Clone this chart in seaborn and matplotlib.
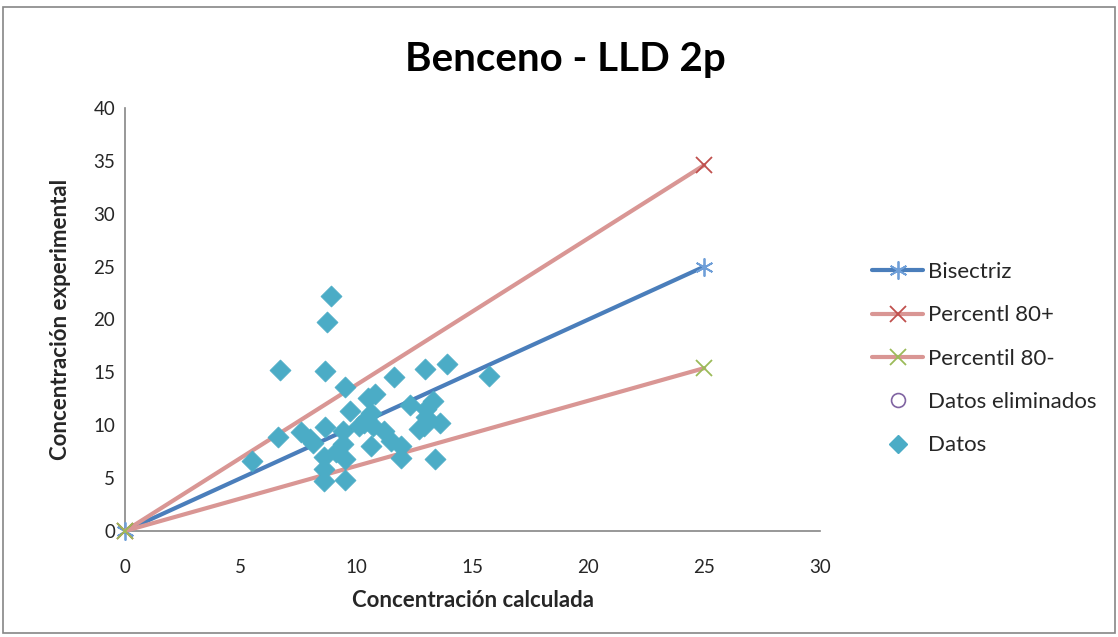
"""Benceno - LLD 2p: experimental vs calculated concentration."""

import matplotlib

matplotlib.use("Agg")
import matplotlib.pyplot as plt
from matplotlib.lines import Line2D
from matplotlib.patches import Rectangle
import seaborn as sns

# reference lines (start / end points)
line_x = [0, 25]
bisectriz_y = [0, 25]
p80_plus_y = [0, 34.6]
p80_minus_y = [0, 15.4]

# measured data ("Datos")
datos_x = [5.5, 6.6, 6.7, 7.6, 8.0, 8.1, 8.65, 8.65, 8.7, 8.9, 9.5,
           8.6, 8.6, 8.6, 9.5, 9.5, 9.4, 9.4, 9.7, 10.1, 10.4, 10.5,
           10.8, 10.6, 10.6, 10.7, 11.2, 11.5, 11.6, 11.9, 11.9, 12.3,
           12.7, 13.0, 13.0, 13.3, 13.6, 12.95, 13.9, 15.7, 13.4, 9.1,
           10.3, 12.9]
datos_y = [6.6, 8.9, 15.2, 9.4, 8.7, 8.3, 9.8, 15.1, 19.8, 22.2, 13.6,
           7.0, 5.9, 4.7, 4.8, 6.8, 8.2, 9.5, 11.3, 9.9, 10.6, 12.6,
           13.0, 11.2, 8.0, 9.9, 9.5, 8.5, 14.6, 6.9, 8.0, 11.9,
           9.6, 10.8, 11.5, 12.3, 10.2, 15.3, 15.8, 14.7, 6.8, 7.5,
           10.2, 9.9]

x_ticks = [0, 5, 10, 15, 20, 25, 30]
y_ticks = [0, 5, 10, 15, 20, 25, 30, 35, 40]

BLUE = "#4a7ebb"
PINK = "#d99694"
DATA = "#4bacc6"

sns.set_style("white")
plt.rcParams["font.family"] = ["Lato", "DejaVu Sans"]

fig = plt.figure(figsize=(11.18, 6.37), dpi=100)
ax = fig.add_axes([0.1118, 0.1664, 0.6217, 0.6641])

star = (6, 2, 0)
sns.lineplot(x=line_x, y=bisectriz_y, color=BLUE, lw=3, marker=star,
             markersize=13, markeredgecolor="#6f9fd8", mew=1.3, ax=ax,
             clip_on=False, zorder=3)
sns.lineplot(x=line_x, y=p80_plus_y, color=PINK, lw=3, marker="x",
             markersize=12, markeredgecolor="#c0504d", mew=1.3, ax=ax,
             clip_on=False, zorder=3)
sns.lineplot(x=line_x, y=p80_minus_y, color=PINK, lw=3, marker="x",
             markersize=12, markeredgecolor="#9bbb59", mew=1.3, ax=ax,
             clip_on=False, zorder=3)
sns.scatterplot(x=datos_x, y=datos_y, marker="D", s=115, color=DATA,
                edgecolor=DATA, linewidth=0.5, ax=ax, zorder=4)

ax.set_xlim(0, 30)
ax.set_ylim(0, 40)
ax.set_xticks(x_ticks)
ax.set_yticks(y_ticks)
ax.tick_params(length=0, labelsize=13.5, colors="#262626")
ax.tick_params(axis="x", pad=20)
ax.tick_params(axis="y", pad=7)
for side in ["top", "right"]:
    ax.spines[side].set_visible(False)
for side in ["left", "bottom"]:
    ax.spines[side].set_color("#868686")
    ax.spines[side].set_linewidth(1.2)

ax.set_xlabel("Concentración calculada", fontsize=16, fontweight="bold",
              labelpad=10)
ax.set_ylabel("Concentración experimental", fontsize=16, fontweight="bold",
              labelpad=16)
fig.text(0.506, 0.906, "Benceno - LLD 2p", ha="center", va="center",
         fontsize=29, fontweight="bold", color="black")

handles = [
    Line2D([], [], color=BLUE, lw=3, marker=star, markersize=13,
           markeredgecolor="#6f9fd8", mew=1.3),
    Line2D([], [], color=PINK, lw=3, marker="x", markersize=12,
           markeredgecolor="#c0504d", mew=1.3),
    Line2D([], [], color=PINK, lw=3, marker="x", markersize=12,
           markeredgecolor="#9bbb59", mew=1.3),
    Line2D([], [], ls="none", marker="o", markersize=10,
           markerfacecolor="none", markeredgecolor="#8064a2", mew=1.2),
    Line2D([], [], ls="none", marker="D", markersize=9, color=DATA),
]
labels = ["Bisectriz", "Percentl 80+", "Percentil 80-", "Datos eliminados",
          "Datos"]
fig.legend(handles, labels, loc="center left", bbox_to_anchor=(0.772, 0.437),
           frameon=False, fontsize=16, handlelength=2.3, handletextpad=0.2,
           labelspacing=1.05, borderaxespad=0)

fig.add_artist(Rectangle((0.003, 0.006), 0.994, 0.983, transform=fig.transFigure,
                         fill=False, edgecolor="#868686", lw=1.2))

fig.savefig("out.png", dpi=100)
